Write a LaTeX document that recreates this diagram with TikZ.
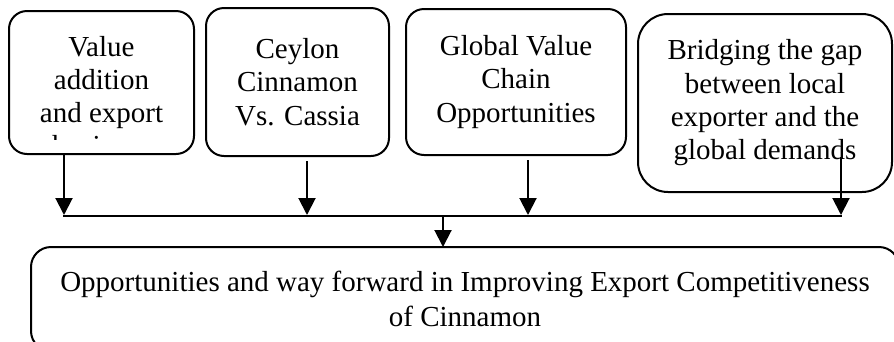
\documentclass[tikz,border=0pt]{standalone}
\usepackage{fontspec}
\setmainfont{Liberation Serif}
\usetikzlibrary{arrows.meta}
\tikzset{
  box/.style={draw, line width=2pt, align=center, inner sep=0pt, outer sep=0pt,
    font=\fontsize{29}{33.3}\selectfont},
  arr/.style={line width=2pt, -{Triangle[width=17pt,length=17pt]}},
  bar/.style={line width=2pt}
}
\begin{document}
\begin{tikzpicture}[x=1pt,y=-1pt]
\useasboundingbox (0,0) rectangle (894,341);
\node[box, rounded corners=18pt, minimum width=185pt, minimum height=143pt] (b1) at (101.5,82.5) {Value\\addition\\and export};
\node[box, rounded corners=18pt, minimum width=183pt, minimum height=148pt] (b2) at (297.5,82) {Ceylon\\Cinnamon\\Vs. Cassia};
\node[box, rounded corners=18pt, minimum width=220pt, minimum height=146pt] (b3) at (516,82) {Global Value\\Chain\\Opportunities};
\node[box, rounded corners=30pt, minimum width=254pt, minimum height=178pt] (b4) at (765,103) {Bridging the gap\\between local\\exporter and the\\global demands};
\node[box, rounded corners=20pt, minimum width=868pt, minimum height=104pt, font=\fontsize{29}{35}\selectfont] (bot) at (465,299) {Opportunities and way forward in Improving Export Competitiveness\\of Cinnamon};
\begin{scope}
\clip (10,120) rectangle (193,139.5);
\node[font=\fontsize{29}{33.3}\selectfont, anchor=base, inner sep=0pt] (b1x) at (101.5,155) {business};
\end{scope}
\coordinate (j1) at (64,215);
\coordinate (j2) at (307,215);
\coordinate (j3) at (528,215);
\coordinate (j4) at (841,215);
\coordinate (s4) at (841,157);
\coordinate (h1) at (63,216);
\coordinate (h4) at (842,216);
\coordinate (jc) at (443,216);
\draw[arr] (b1.south -| j1) -- (j1);
\draw[arr] ([yshift=-5pt]b2.south -| j2) -- (j2);
\draw[arr] ([yshift=-5pt]b3.south -| j3) -- (j3);
\draw[arr] (s4) -- (j4);
\draw[bar] (h1) -- (h4);
\draw[arr] (jc) -- (bot.north -| jc);
\end{tikzpicture}
\end{document}
